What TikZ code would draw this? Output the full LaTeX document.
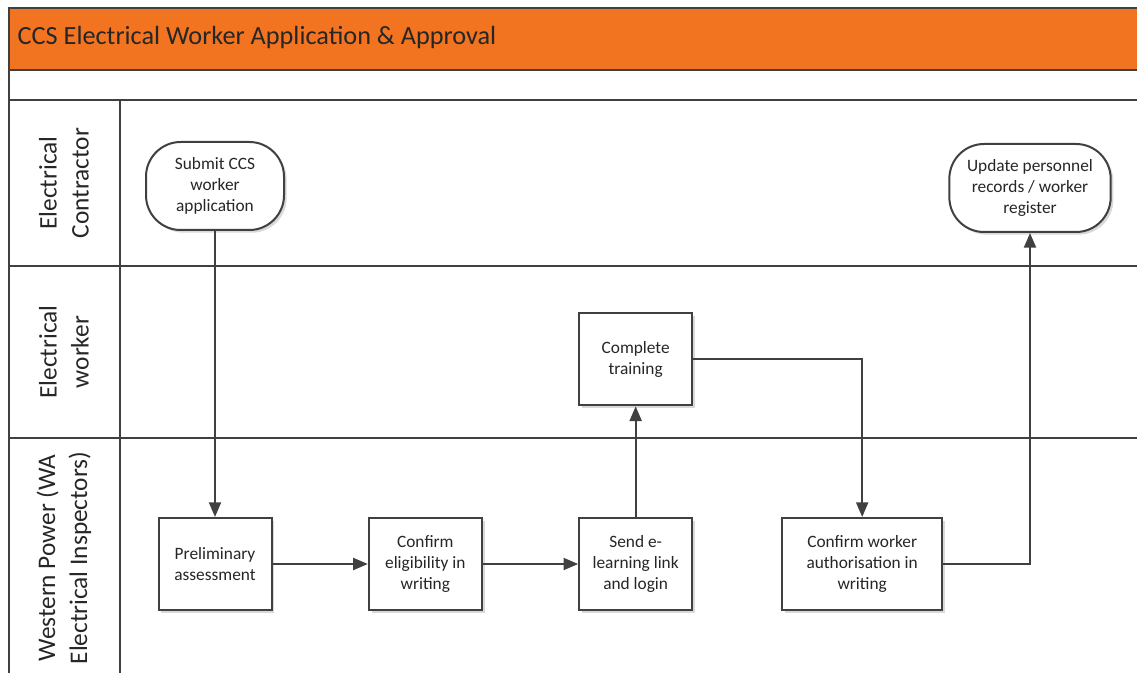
\documentclass[tikz,border=0pt]{standalone}
\usepackage{fontspec}
\setmainfont{Carlito}
\usetikzlibrary{arrows.meta,positioning,shadows}
\definecolor{CCSOrange}{HTML}{F27421}
\definecolor{CCSLine}{HTML}{404040}
\definecolor{CCSText}{HTML}{262626}

\begin{document}
\begin{tikzpicture}[
  x=0.75pt, y=-0.75pt,
  node distance=71.5pt,
  lane/.style={draw=CCSLine, line width=1.5pt},
  lanelabel/.style={rotate=90, align=center, text=CCSText, font=\fontsize{19}{24}\selectfont},
  task/.style={draw=CCSLine, fill=white, line width=1.5pt, text=CCSText, align=center, minimum width=84.75pt, minimum height=69pt, font=\fontsize{13}{15.5}\selectfont, drop shadow={shadow xshift=2pt, shadow yshift=-2pt, fill=black, opacity=0.15}},
  terminal/.style={task, rounded corners=26pt, minimum height=66pt},
  flow/.style={-{Triangle[length=11pt,width=9pt]}, line width=1.5pt, draw=CCSLine}
]
\useasboundingbox (0,0) rectangle (1137,673);
% pool and lanes
\fill[CCSOrange] (9,8) rectangle (1137,70);
\draw[lane] (1137,8) -- (9,8) -- (9,673);
\draw[lane] (9,70) -- (1137,70);
\draw[lane] (9,100) -- (1137,100);
\draw[lane] (9,266) -- (1137,266);
\draw[lane] (9,438) -- (1137,438);
\draw[lane] (120,100) -- (120,673);
\node[anchor=west, text=CCSText, font=\fontsize{19.7}{22}\selectfont] (title) at (13,38) {CCS Electrical Worker Application \& Approval};
\node[lanelabel] (contractor) at (64,183) {Electrical\\Contractor};
\node[lanelabel] (worker) at (64,352) {Electrical\\worker};
\node[lanelabel] (inspectors) at (64,558) {Western Power (WA\\Electrical Inspectors)};

% steps
\node[task] (prelim) at (215,564) {Preliminary\\assessment};
\node[task, right=of prelim] (elig) {Confirm\\eligibility in\\writing};
\node[task, right=of elig] (send) {Send e-\\learning link\\and login};
\node[task, above=83pt of send] (train) {Complete\\training};
\node[task, right=66pt of send, minimum width=120pt] (auth) {Confirm worker\\authorisation in\\writing};
\node[terminal, minimum width=103.5pt] (submit) at (215,186) {Submit CCS\\worker\\application};
\node[terminal, minimum width=121pt] (update) at (1030,188) {Update personnel\\records / worker\\register};

% flow
\draw[flow] (submit) -- (prelim);
\draw[flow] (prelim) -- (elig);
\draw[flow] (elig) -- (send);
\draw[flow] (send) -- (train);
\draw[flow] (train) -| (auth);
\draw[flow] (auth) -| (update);
\end{tikzpicture}
\end{document}
